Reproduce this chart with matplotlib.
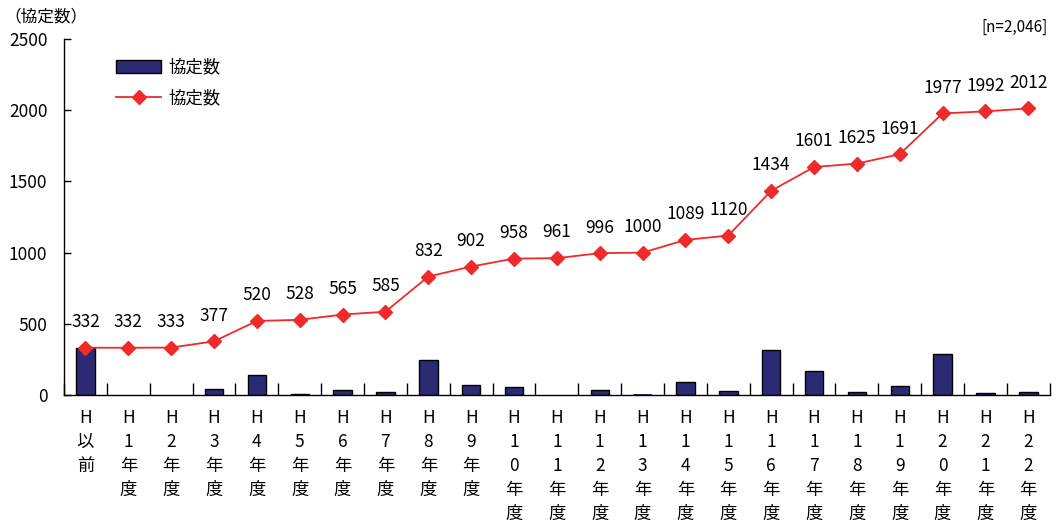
import matplotlib
matplotlib.use("Agg")
import matplotlib.pyplot as plt
import numpy as np
from matplotlib.patches import Patch

plt.rcParams['font.family'] = ['Noto Sans CJK JP', 'DejaVu Sans']

categories = ["H以前", "H1年度", "H2年度", "H3年度", "H4年度", "H5年度", "H6年度", "H7年度",
              "H8年度", "H9年度", "H10年度", "H11年度", "H12年度", "H13年度", "H14年度",
              "H15年度", "H16年度", "H17年度", "H18年度", "H19年度", "H20年度", "H21年度", "H22年度"]
annual = [332, 0, 1, 44, 143, 8, 37, 20, 247, 70, 56, 3, 35, 4, 89, 31, 314, 167, 24, 66, 286, 15, 20]
cumulative = [332, 332, 333, 377, 520, 528, 565, 585, 832, 902, 958, 961, 996, 1000, 1089, 1120,
              1434, 1601, 1625, 1691, 1977, 1992, 2012]
yticks = [0, 500, 1000, 1500, 2000, 2500]

fig = plt.figure(figsize=(10.55, 5.32), dpi=100)
ax = fig.add_axes([0.0607, 0.2575, 0.9343, 0.6692])
x = np.arange(len(categories))
bars = ax.bar(x, annual, width=0.43, color='#2b2a72', edgecolor='black', linewidth=1.0,
              label='協定数', zorder=2)
for b, v in zip(bars, annual):
    if v < 5:
        b.set_linewidth(0)
line, = ax.plot(x, cumulative, color='#ee2a2a', marker='D', markersize=7, linewidth=1.3,
                markerfacecolor='#ee2a2a', markeredgecolor='#ee2a2a', label='協定数', zorder=3)
for xi, v in zip(x, cumulative):
    ax.annotate(str(v), (xi, v), xytext=(0, 12), textcoords='offset points',
                ha='center', va='bottom', fontsize=12.5)

ax.set_xlim(-0.5, len(categories) - 0.5)
ax.set_ylim(0, 2500)
ax.set_yticks(yticks)
ax.set_yticklabels([str(t) for t in yticks], fontsize=12.5)
ax.tick_params(axis='y', direction='in', length=5, width=1, pad=12)
ax.set_xticks(np.arange(len(categories) + 1) - 0.5)
ax.set_xticklabels([])
ax.tick_params(axis='x', direction='in', length=9, width=1)
for xi, c in zip(x, categories):
    ax.text(xi, -100, "\n".join(list(c)), ha='center', va='top', fontsize=12.5,
            linespacing=1.42, transform=ax.transData, clip_on=False)
for s in ['top', 'right']:
    ax.spines[s].set_visible(False)
ax.spines['left'].set_linewidth(1)
ax.spines['bottom'].set_linewidth(1)

fig.text(0.004, 0.985, '（協定数）', ha='left', va='top', fontsize=12)
fig.text(0.993, 0.965, '[n=2,046]', ha='right', va='top', fontsize=11)

bar_handle = Patch(facecolor='#2b2a72', edgecolor='black', linewidth=1.0)
leg = ax.legend([bar_handle, line], ['協定数', '協定数'], loc='upper left',
                bbox_to_anchor=(0.037, 0.99), frameon=False, fontsize=12.5,
                handlelength=2.6, handleheight=0.8, labelspacing=0.75, handletextpad=0.4)
fig.savefig('out.png', dpi=100)
